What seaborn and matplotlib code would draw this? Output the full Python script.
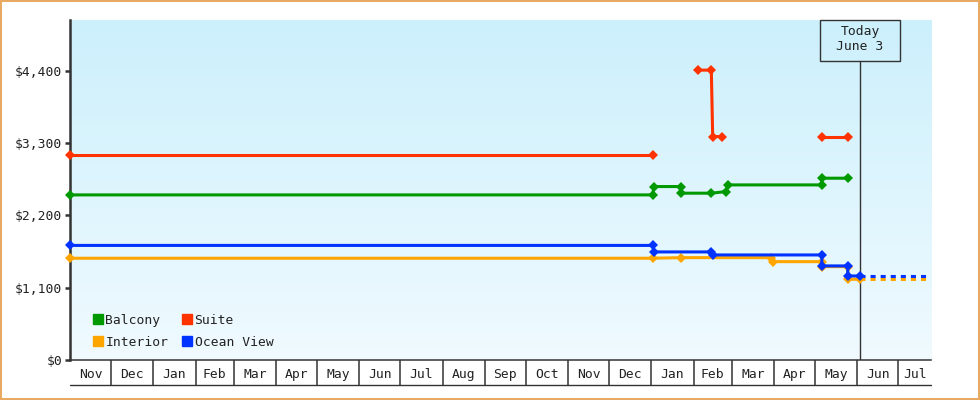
import numpy as np
import pandas as pd
import matplotlib
matplotlib.use("Agg")
import matplotlib.pyplot as plt
import matplotlib.dates as mdates
from matplotlib.colors import LinearSegmentedColormap
from matplotlib.lines import Line2D
from matplotlib.patches import Rectangle
from matplotlib.ticker import FixedLocator, FixedFormatter, FuncFormatter, NullFormatter
from matplotlib.transforms import IdentityTransform
import seaborn as sns

OUTPUT_IMAGE = "out.png"

# price history per cabin (seg = one unbroken run of observations)
BALCONY_DATES = ["2016-11-01", "2018-01-02", "2018-01-03", "2018-01-23", "2018-01-23",
                 "2018-02-14", "2018-02-25", "2018-02-26", "2018-05-06", "2018-05-06", "2018-05-25"]
BALCONY_PRICES = [2513, 2513, 2640, 2640, 2539, 2539, 2564, 2665, 2665, 2767, 2767]
BALCONY_SEGS = [0] * 11

SUITE_DATES = ["2016-11-01", "2018-01-02",
               "2018-02-04", "2018-02-14", "2018-02-15", "2018-02-22",
               "2018-05-06", "2018-05-25"]
SUITE_PRICES = [3118, 3118, 4412, 4412, 3401, 3401, 3401, 3401]
SUITE_SEGS = [0, 0, 1, 1, 1, 1, 2, 2]

INTERIOR_DATES = ["2016-11-01", "2018-01-02", "2018-01-23", "2018-03-30", "2018-03-31",
                  "2018-05-06", "2018-05-06", "2018-05-25", "2018-05-25", "2018-06-03"]
INTERIOR_PRICES = [1549, 1549, 1558, 1558, 1497, 1497, 1421, 1421, 1229, 1229]
INTERIOR_SEGS = [0] * 10

OCEAN_DATES = ["2016-11-01", "2018-01-02", "2018-01-03", "2018-02-14", "2018-02-15",
               "2018-05-06", "2018-05-06", "2018-05-25", "2018-05-25", "2018-06-03"]
OCEAN_PRICES = [1744, 1744, 1645, 1645, 1599, 1599, 1432, 1432, 1279, 1279]
OCEAN_SEGS = [0] * 10

# projection after today (dotted)
FORECAST_DATES = ["2018-06-03", "2018-07-25"]
FORECAST_INTERIOR = [1229, 1229]
FORECAST_OCEAN = [1279, 1279]

START = "2016-11-01"
END = "2018-07-25"
TODAY = "2018-06-03"
TODAY_LABEL = "Today\nJune 3"
Y_TICKS = [0, 1100, 2200, 3300, 4400]
Y_MAX = 5175

COLORS = {"Balcony": "#009900", "Suite": "#ff3300", "Interior": "#ffa500", "Ocean View": "#0033ff"}
DRAW_ORDER = ["Suite", "Balcony", "Interior", "Ocean View"]
LEGEND_ORDER = ["Balcony", "Interior", "Suite", "Ocean View"]
INK = "#333333"
FS = 9.4


def make_frame(name, dates, prices, segs):
    return pd.DataFrame({"date": pd.to_datetime(dates), "price": prices,
                         "seg": segs, "cabin": name})


def main():
    hist = pd.concat([
        make_frame("Balcony", BALCONY_DATES, BALCONY_PRICES, BALCONY_SEGS),
        make_frame("Suite", SUITE_DATES, SUITE_PRICES, SUITE_SEGS),
        make_frame("Interior", INTERIOR_DATES, INTERIOR_PRICES, INTERIOR_SEGS),
        make_frame("Ocean View", OCEAN_DATES, OCEAN_PRICES, OCEAN_SEGS),
    ], ignore_index=True)
    forecast = pd.concat([
        make_frame("Interior", FORECAST_DATES, FORECAST_INTERIOR, [0, 0]),
        make_frame("Ocean View", FORECAST_DATES, FORECAST_OCEAN, [0, 0]),
    ], ignore_index=True)

    sns.set_style("white")
    plt.rcParams["font.family"] = ["DejaVu Sans Mono", "DejaVu Sans"]

    fig = plt.figure(figsize=(9.8, 4), dpi=100)
    fig.patch.set_edgecolor("#e8aa62")
    fig.patch.set_linewidth(1.6)
    ax = fig.add_axes([70 / 980, 40 / 400, 861 / 980, 340 / 400])

    sns.lineplot(data=forecast, x="date", y="price", hue="cabin",
                 estimator=None, sort=False, hue_order=DRAW_ORDER, palette=COLORS,
                 linewidth=2.2, linestyle=(0, (1.65, 1.65)),
                 legend=False, ax=ax, zorder=3)
    sns.lineplot(data=hist, x="date", y="price", hue="cabin", units="seg",
                 estimator=None, sort=False, hue_order=DRAW_ORDER, palette=COLORS,
                 marker="D", markersize=5.6, markeredgewidth=0, linewidth=2.2,
                 legend=False, ax=ax, zorder=3, clip_on=False)

    # soft blue gradient behind the plot area
    grad = LinearSegmentedColormap.from_list("bg", ["#ccf0fc", "#f0faff"])
    ax.imshow(np.linspace(0, 1, 256).reshape(-1, 1), cmap=grad, aspect="auto",
              extent=[0, 1, 0, 1], transform=ax.transAxes, zorder=0)

    x0 = pd.Timestamp(START)
    x1 = pd.Timestamp(END)
    ax.set_xlim(mdates.date2num(x0), mdates.date2num(x1))
    ax.set_ylim(0, Y_MAX)
    ax.set_xlabel("")
    ax.set_ylabel("")

    # month cells under the axis
    edges = pd.date_range(x0, x1, freq="MS")
    edges = edges[edges > x0]
    bounds = pd.DatetimeIndex([x0]).append(edges).append(pd.DatetimeIndex([x1]))
    mids = bounds[:-1] + (bounds[1:] - bounds[:-1]) / 2
    ax.xaxis.set_major_locator(FixedLocator(mdates.date2num(edges)))
    ax.xaxis.set_major_formatter(NullFormatter())
    ax.xaxis.set_minor_locator(FixedLocator(mdates.date2num(mids)))
    ax.xaxis.set_minor_formatter(FixedFormatter(list(bounds[:-1].strftime("%b"))))
    ax.tick_params(axis="x", which="major", direction="out", length=18, width=1.1,
                   color=INK, bottom=True)
    ax.tick_params(axis="x", which="minor", length=0, pad=6, labelsize=FS,
                   labelcolor="#222222", bottom=True)
    ax.plot([0, 1], [-25 / 340] * 2, transform=ax.transAxes, clip_on=False,
            color=INK, lw=1.0)

    ax.set_yticks(Y_TICKS)
    ax.yaxis.set_major_formatter(FuncFormatter(lambda v, p: f"${v:,.0f}"))
    ax.tick_params(axis="y", direction="out", length=3.6, width=1.8, pad=2,
                   color=INK, labelsize=FS, labelcolor="#222222", left=True)

    for side in ["top", "right"]:
        ax.spines[side].set_visible(False)
    ax.spines["left"].set_color(INK)
    ax.spines["left"].set_linewidth(1.8)
    ax.spines["left"].set_zorder(2.5)
    ax.spines["bottom"].set_color(INK)
    ax.spines["bottom"].set_linewidth(1.1)

    # today marker
    today_num = mdates.date2num(pd.Timestamp(TODAY))
    ax.axvline(today_num, ymin=0, ymax=1 - 40.7 / 340, color=INK, lw=1.0, zorder=2)
    ax.text(today_num, 1 - 4.5 / 340, TODAY_LABEL, transform=ax.get_xaxis_transform(),
            ha="center", va="top", multialignment="center", linespacing=1.29,
            fontsize=FS, color="#222222", zorder=4)

    handles = [Line2D([], [], marker="s", ls="none", color=COLORS[n],
                      markersize=7.7, label=n) for n in LEGEND_ORDER]
    leg = ax.legend(handles=handles, ncol=2, loc="lower left",
                    bbox_to_anchor=(23 / 861, 11.5 / 340), frameon=False,
                    handlelength=0.8, handletextpad=0.15, columnspacing=1.05,
                    labelspacing=0.66, borderpad=0, borderaxespad=0,
                    fontsize=FS)
    for t in leg.get_texts():
        t.set_color("#222222")

    fig.canvas.draw()
    tx, ty = ax.transData.transform((today_num, Y_MAX))
    fig.add_artist(Rectangle((tx - 40, ty - 40.7), 80, 40.7, transform=IdentityTransform(),
                             fill=False, ec=INK, lw=1.0))

    fig.savefig(OUTPUT_IMAGE, dpi=100, facecolor=fig.get_facecolor(),
                edgecolor=fig.patch.get_edgecolor())


if __name__ == "__main__":
    main()
